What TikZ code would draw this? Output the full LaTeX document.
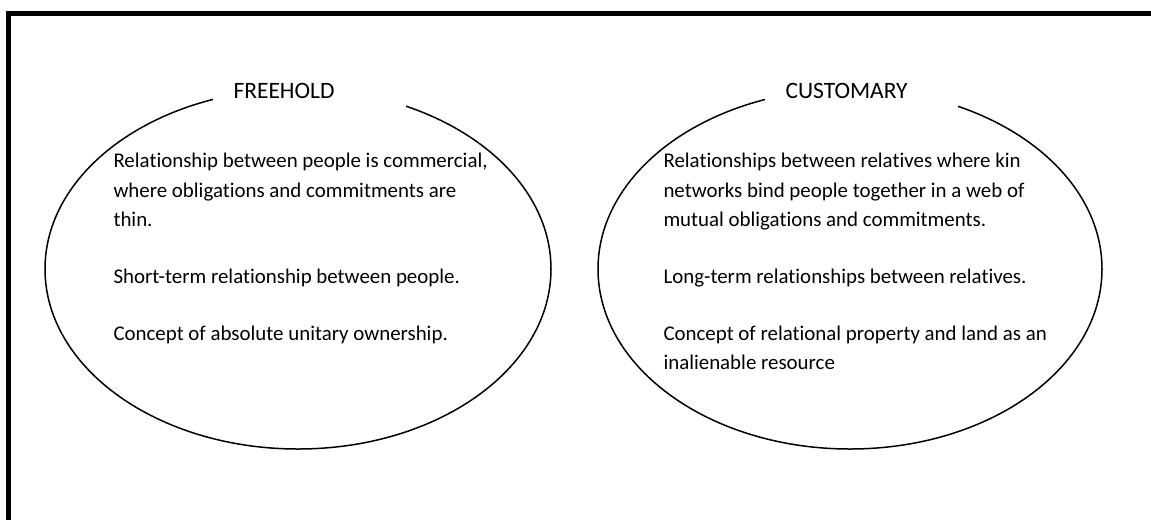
\documentclass[tikz,border=0pt]{standalone}
\usepackage{fontspec}
\setmainfont{Carlito}[Ligatures={NoCommon}]
\usetikzlibrary{shapes.geometric}

\tikzset{
  frameline/.style={line width=5pt, line join=miter, line cap=butt},
  setoval/.style={ellipse, draw=black, line width=1.5pt, inner sep=0pt, outer sep=0pt},
  titlebox/.style={fill=white, anchor=base west, inner xsep=21pt, inner ysep=2pt,
    text width=151.7pt, align=left, text height=18pt, text depth=10pt,
    font=\fontsize{23.5}{28}\selectfont},
  bodyline/.style={anchor=base west, inner sep=0pt, font=\fontsize{20.9}{29.5}\selectfont}
}

\begin{document}
\begin{tikzpicture}[x=1pt, y=-1pt]
  \useasboundingbox (0,0) rectangle (1151,520);

  % heavy border along the top and left edges
  \coordinate (frameBL) at (8.5,520);
  \coordinate (frameTL) at (8.5,13.5);
  \coordinate (frameTR) at (1151,13.5);
  \draw[frameline] (frameBL) -- (frameTL) -- (frameTR);

  % the two ovals
  \node[setoval, minimum width=506pt, minimum height=360pt] (freeoval) at (298,269) {};
  \node[setoval, minimum width=504pt, minimum height=360pt] (custoval) at (850,269) {};

  % headings in white boxes that break the top of each oval
  \node[titlebox] (freetitle) at (212.3,98.3) {FREEHOLD};
  \node[titlebox] (custtitle) at (764.3,98.3) {CUSTOMARY};

  % freehold points
  \node[bodyline] (fa1) at (113.3,167.7) {Relationship between people is commercial,};
  \node[bodyline] (fa2) at (113.3,197.2) {where obligations and commitments are};
  \node[bodyline] (fa3) at (113.3,226.7) {thin.};
  \node[bodyline] (fb1) at (113.3,283.3) {Short-term relationship between people.};
  \node[bodyline] (fc1) at (113.3,340.0) {Concept of absolute unitary ownership.};

  % customary points
  \node[bodyline] (ca1) at (663.3,167.7) {Relationships between relatives where kin};
  \node[bodyline] (ca2) at (663.3,197.2) {networks bind people together in a web of};
  \node[bodyline] (ca3) at (663.3,226.7) {mutual obligations and commitments.};
  \node[bodyline] (cb1) at (663.3,283.3) {Long-term relationships between relatives.};
  \node[bodyline] (cc1) at (663.3,340.0) {Concept of relational property and land as an};
  \node[bodyline] (cc2) at (663.3,369.5) {inalienable resource};
\end{tikzpicture}
\end{document}
